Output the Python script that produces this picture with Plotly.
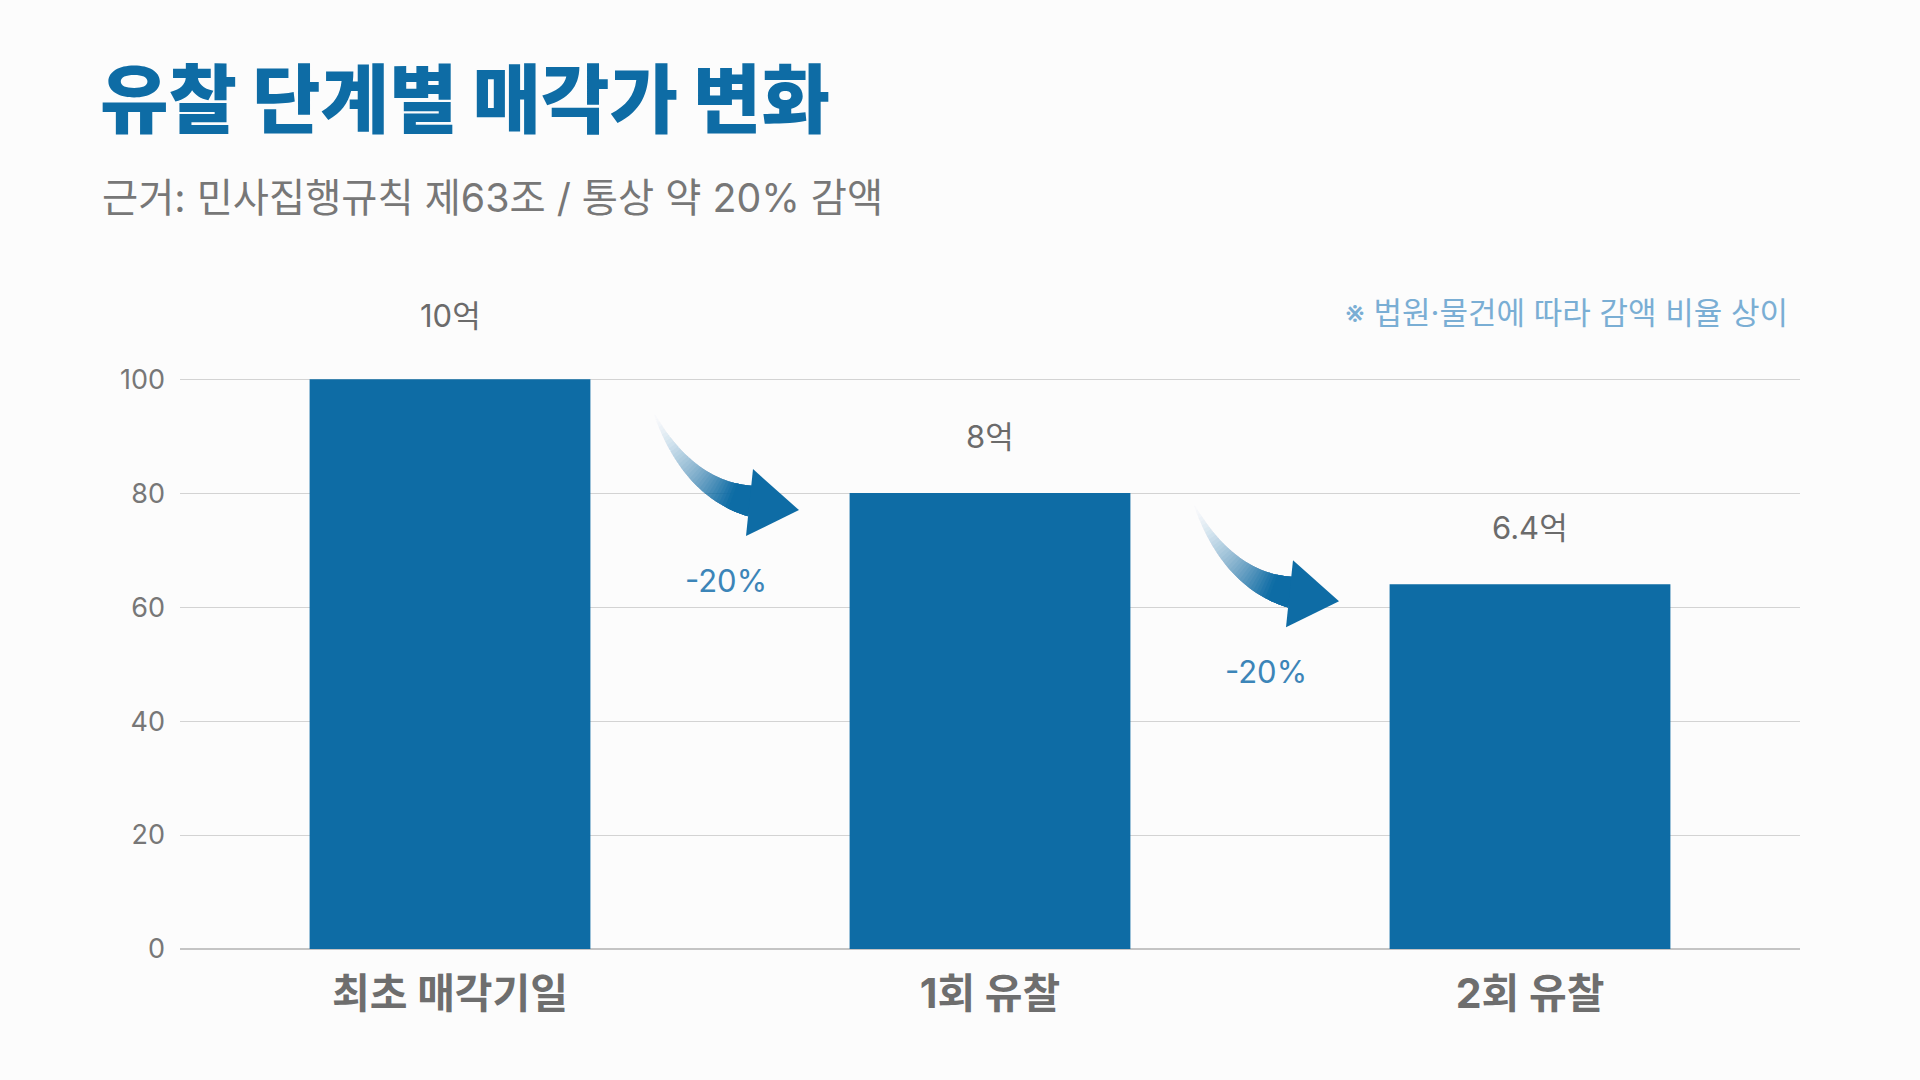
import plotly.graph_objects as go

# chart data
categories = ["최초 매각기일", "1회 유찰", "2회 유찰"]
values = [100, 80, 64]
value_labels = ["10억", "8억", "6.4억"]
drop_labels = ["-20%", "-20%"]
y_ticks = [0, 20, 40, 60, 80, 100]

title = "유찰 단계별 매각가 변화"
subtitle = "근거: 민사집행규칙 제63조 / 통상 약 20% 감액"
note = "※ 법원·물건에 따라 감액 비율 상이"

BLUE = "#0e6ca5"
FONT = "Inter, Noto Sans CJK KR, sans-serif"

W, H = 1920, 1080
M = dict(l=180, r=120, t=378, b=131)
pw = W - M["l"] - M["r"]
ph = H - M["t"] - M["b"]


def to_paper(px, py):
    # screen pixel -> paper coords of the plot area
    return (px - M["l"]) / pw, (H - M["b"] - py) / ph


fig = go.Figure()
x_idx = list(range(len(categories)))
fig.add_trace(go.Bar(x=x_idx, y=values, marker=dict(color=BLUE, line=dict(width=0)),
                     width=0.52, hoverinfo="skip"))

# value labels above bars (pixel lift above bar top)
lift = [64, 57, 57]
for i, (v, lab) in enumerate(zip(values, value_labels)):
    fig.add_annotation(x=i, y=v, text=lab, showarrow=False, yshift=lift[i],
                       font=dict(family=FONT, size=31, color="#6b6b6b"))


def bezier(p0, p1, p2, t):
    a = (1 - t) ** 2
    b = 2 * (1 - t) * t
    c = t ** 2
    return (a * p0[0] + b * p1[0] + c * p2[0], a * p0[1] + b * p1[1] + c * p2[1])


def bezier_d(p0, p1, p2, t):
    return (2 * (1 - t) * (p1[0] - p0[0]) + 2 * t * (p2[0] - p1[0]),
            2 * (1 - t) * (p1[1] - p0[1]) + 2 * t * (p2[1] - p1[1]))


def opacity(t):
    return min(0.999, (t / 0.85) ** 1.4)


# curved gradient arrows between bars, in pixels relative to (gap centre, right bar top)
P0, P1, P2 = (-67, 82), (-32, 4), (31, -8)
head = [(33, 24), (79, -17), (26, -43)]
N = 40
shapes = []
for k in range(len(values) - 1):
    ax_x, ax_y = k + 0.5, values[k + 1]
    pts_l, pts_r = [], []
    for j in range(N + 1):
        t = j / N
        cx, cy = bezier(P0, P1, P2, t)
        dx, dy = bezier_d(P0, P1, P2, t)
        n = (dx * dx + dy * dy) ** 0.5
        nx, ny = -dy / n, dx / n
        w = (1.0 + 30.0 * t) / 2
        pts_l.append((cx + nx * w, cy + ny * w))
        pts_r.append((cx - nx * w, cy - ny * w))
    # stacked layers from t_j to the head, so the gradient has no seams
    prev = 0.0
    for j in range(N):
        target = opacity((j + 0.5) / N)
        a = 1 - (1 - target) / (1 - prev)
        prev = target
        if a <= 0.001:
            continue
        poly = pts_l[j:] + pts_r[j:][::-1]
        path = "M" + " L".join("{:.2f},{:.2f}".format(px, py) for px, py in poly) + " Z"
        shapes.append(dict(type="path", xref="x", yref="y", xsizemode="pixel", ysizemode="pixel",
                           xanchor=ax_x, yanchor=ax_y, path=path,
                           fillcolor="rgba(14,108,165,{:.4f})".format(a),
                           line=dict(width=0), layer="above"))
    hp = "M{},{} L{},{} L{},{} Z".format(head[0][0], head[0][1], head[1][0], head[1][1],
                                         head[2][0], head[2][1])
    shapes.append(dict(type="path", xref="x", yref="y", xsizemode="pixel", ysizemode="pixel",
                       xanchor=ax_x, yanchor=ax_y, path=hp, fillcolor=BLUE,
                       line=dict(width=0), layer="above"))
    fig.add_annotation(x=ax_x, y=ax_y, text=drop_labels[k], showarrow=False,
                       xshift=6, yshift=-87,
                       font=dict(family=FONT, size=31, color="#3c85b8"))

# subtitle and note
sx, sy = to_paper(100, 198)
fig.add_annotation(xref="paper", yref="paper", x=sx, y=sy, xanchor="left", yanchor="middle",
                   text=subtitle, showarrow=False,
                   font=dict(family=FONT, size=39.3, color="#777777"))
nx_, ny_ = to_paper(1790, 313)
fig.add_annotation(xref="paper", yref="paper", x=nx_, y=ny_, xanchor="right", yanchor="middle",
                   text=note, showarrow=False,
                   font=dict(family=FONT, size=31, color="#7aaed4"))

fig.update_layout(
    width=W, height=H,
    margin=M,
    paper_bgcolor="#fcfcfc",
    plot_bgcolor="#fcfcfc",
    showlegend=False,
    shapes=shapes,
    title=dict(text=title, xref="container", yref="container",
               x=100 / W, xanchor="left", y=1 - 101 / H, yanchor="middle",
               font=dict(family=FONT, size=74.5, color=BLUE, weight=900)),
    xaxis=dict(range=[-0.5, 2.5], tickvals=x_idx, ticktext=categories, showgrid=False,
               zeroline=False, showline=False, ticks="", ticklabelstandoff=17,
               automargin=False,
               tickfont=dict(family=FONT, size=41, color="#6e6e6e", weight="bold")),
    yaxis=dict(range=[0, 100.2], tickvals=y_ticks, showgrid=True, gridcolor="#d3d3d3",
               gridwidth=1, zeroline=True, zerolinecolor="#c4c4c4", zerolinewidth=1.5,
               showline=False, ticks="", ticklabelstandoff=14, automargin=False,
               tickfont=dict(family=FONT, size=27, color="#777777")),
)

fig.write_html("out.html", config={"displayModeBar": False},
               post_script="document.body.style.margin='0';")
